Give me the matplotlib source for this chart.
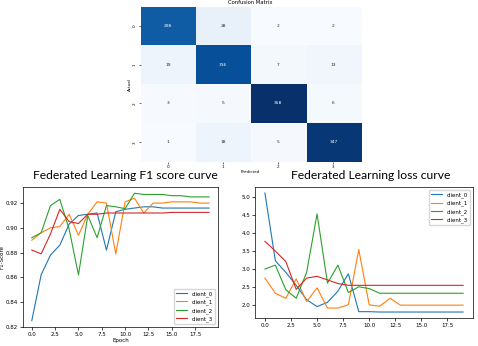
import numpy as np
import matplotlib
matplotlib.use('Agg')
import matplotlib.pyplot as plt

# Confusion matrix values
classes = ['0', '1', '2', '3']
conf_matrix = [[298, 28, 2, 2],
               [19, 316, 7, 13],
               [3, 5, 358, 6],
               [1, 18, 5, 347]]

epochs = list(range(20))

# F1 score per client
f1_client_0 = [0.825, 0.862, 0.878, 0.886, 0.903, 0.910, 0.911, 0.912, 0.882, 0.913,
               0.915, 0.916, 0.917, 0.917, 0.916, 0.916, 0.916, 0.916, 0.916, 0.916]
f1_client_1 = [0.890, 0.896, 0.900, 0.901, 0.911, 0.894, 0.911, 0.921, 0.920, 0.879,
               0.921, 0.924, 0.912, 0.920, 0.920, 0.921, 0.921, 0.921, 0.920, 0.920]
f1_client_2 = [0.892, 0.896, 0.918, 0.923, 0.899, 0.862, 0.910, 0.892, 0.918, 0.917,
               0.9155, 0.928, 0.927, 0.927, 0.927, 0.926, 0.926, 0.925, 0.925, 0.925]
f1_client_3 = [0.882, 0.879, 0.895, 0.915, 0.905, 0.9035, 0.911, 0.911, 0.912, 0.912,
               0.912, 0.912, 0.912, 0.912, 0.912, 0.9125, 0.9125, 0.9125, 0.9125, 0.9125]

# Loss per client
loss_client_0 = [5.10, 3.22, 2.90, 2.54, 2.14, 1.95, 2.07, 2.38, 2.86, 1.81,
                 1.81, 1.80, 1.80, 1.80, 1.80, 1.80, 1.80, 1.80, 1.80, 1.80]
loss_client_1 = [2.74, 2.32, 2.18, 2.72, 2.09, 2.47, 1.91, 1.91, 2.00, 3.53,
                 2.00, 1.96, 2.18, 1.99, 1.99, 1.99, 1.99, 1.99, 1.99, 1.99]
loss_client_2 = [2.99, 3.10, 2.42, 2.18, 2.90, 4.52, 2.60, 3.10, 2.34, 2.50,
                 2.45, 2.32, 2.32, 2.32, 2.32, 2.32, 2.32, 2.32, 2.32, 2.32]
loss_client_3 = [3.76, 3.49, 3.20, 2.43, 2.74, 2.79, 2.69, 2.59, 2.54, 2.54,
                 2.54, 2.54, 2.54, 2.54, 2.54, 2.54, 2.54, 2.54, 2.54, 2.54]

client_names = ['client_0', 'client_1', 'client_2', 'client_3']
TITLE_FONT = 'Lato'
W, H = 478, 346

fig = plt.figure(figsize=(W / 100, H / 100), dpi=100)

# Confusion matrix (top)
ax_cm = fig.add_axes([0.294, 0.533, 0.461, 0.448])
cm = np.array(conf_matrix)
ax_cm.imshow(cm, cmap='Blues', aspect='auto', vmin=cm.min(), vmax=cm.max())
cmap = plt.get_cmap('Blues')
norm = plt.Normalize(cm.min(), cm.max())
for i in range(cm.shape[0]):
    for j in range(cm.shape[1]):
        r, g, b, _ = cmap(norm(cm[i, j]))
        lum = 0.2126 * r + 0.7152 * g + 0.0722 * b
        color = 'white' if lum < 0.408 else '0.15'
        ax_cm.text(j, i, str(cm[i, j]), ha='center', va='center', fontsize=3.2, color=color)
ax_cm.set_xticks(range(len(classes)))
ax_cm.set_yticks(range(len(classes)))
ax_cm.set_xticklabels(classes, fontsize=3)
ax_cm.set_yticklabels(classes, fontsize=3, rotation=90, va='center')
ax_cm.tick_params(length=1.5, width=0.4, pad=1)
for s in ax_cm.spines.values():
    s.set_visible(False)
ax_cm.set_title('Confusion Matrix', fontsize=3.8, pad=1.5)
ax_cm.set_xlabel('Predicted', fontsize=3, labelpad=1)
ax_cm.set_ylabel('Actual', fontsize=3, labelpad=1)

# F1 score curve (bottom left)
ax_f1 = fig.add_axes([0.048, 0.055, 0.408, 0.405])
for name, vals in zip(client_names, [f1_client_0, f1_client_1, f1_client_2, f1_client_3]):
    ax_f1.plot(epochs, vals, label=name, linewidth=0.8)
ax_f1.set_xlabel('Epoch', fontsize=4, labelpad=1)
ax_f1.set_ylabel('F1-Score', fontsize=4, labelpad=1)
ax_f1.tick_params(labelsize=4, length=2, width=0.5, pad=1.5)
ax_f1.legend(loc='lower right', fontsize=4)
fig.text(125.5 / W, 1 - 175 / H, 'Federated Learning F1 score curve',
         fontsize=8.7, family=TITLE_FONT, ha='center', va='center')

# Loss curve (bottom right)
ax_loss = fig.add_axes([0.5335, 0.081, 0.456, 0.3785])
for name, vals in zip(client_names, [loss_client_0, loss_client_1, loss_client_2, loss_client_3]):
    ax_loss.plot(epochs, vals, label=name, linewidth=0.8)
ax_loss.tick_params(labelsize=4, length=2, width=0.5, pad=1.5)
ax_loss.legend(loc='upper right', fontsize=4)
fig.text(370.5 / W, 1 - 175 / H, 'Federated Learning loss curve',
         fontsize=8.7, family=TITLE_FONT, ha='center', va='center')

for ax in (ax_f1, ax_loss):
    for s in ax.spines.values():
        s.set_linewidth(0.5)

fig.savefig('out.png', dpi=100)
